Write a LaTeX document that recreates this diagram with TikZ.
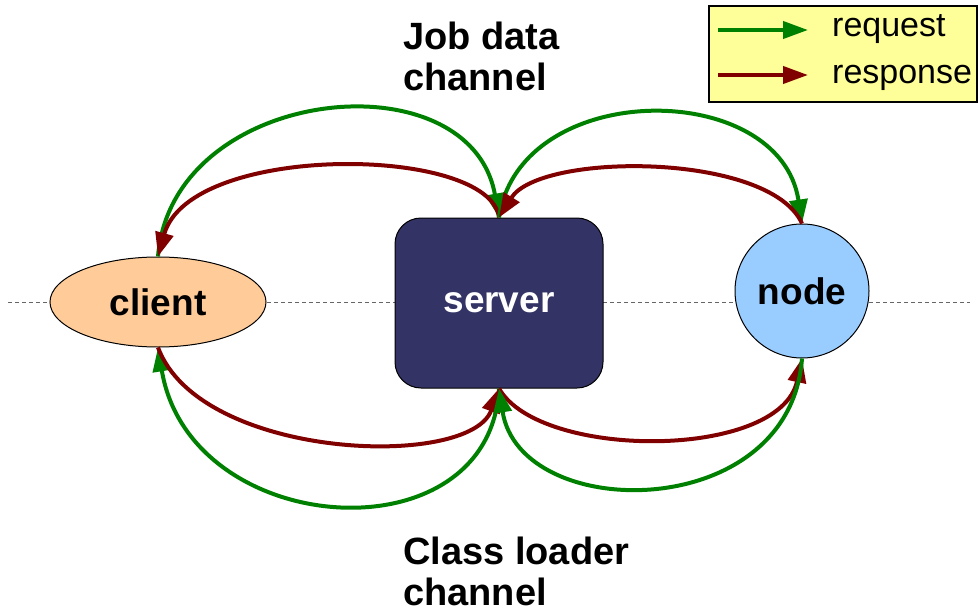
\documentclass[tikz,border=0pt]{standalone}
\usepackage{fontspec}
\setmainfont{Liberation Sans}
\usetikzlibrary{arrows.meta,shapes.geometric}
\definecolor{reqgreen}{RGB}{0,128,0}
\definecolor{resred}{RGB}{128,0,0}
\definecolor{clientfill}{RGB}{255,204,153}
\definecolor{serverfill}{RGB}{51,51,102}
\definecolor{nodefill}{RGB}{153,204,255}
\definecolor{legendfill}{RGB}{255,255,153}
\tikzset{
  big/.style={font=\fontsize{37}{41}\selectfont\bfseries},
  chan/.style={font=\fontsize{38}{41}\selectfont\bfseries},
  req/.style={draw=reqgreen,line width=4pt,-{Triangle[length=24pt,width=18pt]}},
  res/.style={draw=resred,line width=4pt,-{Triangle[length=24pt,width=18pt]}},
  legreq/.style={draw=reqgreen,line width=4pt,-{Triangle[length=25pt,width=17pt]}},
  legres/.style={draw=resred,line width=4pt,-{Triangle[length=25pt,width=17pt]}},
  lbl/.style={chan,anchor=base west,inner sep=0pt},
  legtext/.style={font=\fontsize{34}{40}\selectfont,anchor=base west,inner sep=0pt},
}
\begin{document}
\begin{tikzpicture}[x=1pt,y=-1pt]
\useasboundingbox (0,0) rectangle (978,616);
% axis line
\coordinate (axl) at (8,302);
\coordinate (axr) at (970,302);
\draw[gray!80!black,line width=1pt,dash pattern=on 4pt off 3pt] (axl) -- (axr);
% nodes
\node[ellipse,draw=black,line width=1pt,fill=clientfill,minimum width=216pt,minimum height=90pt,inner sep=0pt,big] (client) at (158,302) {client};
\node[rectangle,rounded corners=26pt,draw=black,line width=1pt,fill=serverfill,minimum width=208pt,minimum height=170pt,inner sep=0pt,big,text=white] (server) at (499,303) {server};
\node[circle,draw=black,line width=1pt,fill=nodefill,minimum size=134pt,inner sep=0pt,big] (node) at (802,291) {node};
% job data channel (top)
\draw[req] (client.north) .. controls (172,85) and (470,55) .. (server.north);
\draw[res] (server.north) .. controls (490,145) and (190,142) .. (client.north);
\draw[req] (server.north) .. controls (520,78) and (780,78) .. (node.north);
\draw[res] (node.north) .. controls (770,152) and (540,152) .. (server.north);
% class loader channel (bottom)
\draw[req] (server.south) .. controls (490,560) and (190,540) .. (client.south);
\draw[res] (client.south) .. controls (200,460) and (470,470) .. (server.south);
\draw[res] (server.south) .. controls (540,460) and (780,460) .. (node.south);
\draw[req] (node.south) .. controls (790,524) and (520,524) .. (server.south);
% channel labels
\node[lbl] (jd1) at (403,49) {Job data};
\node[lbl] (jd2) at (403,90) {channel};
\node[lbl] (cl1) at (403,564) {Class loader};
\node[lbl] (cl2) at (403,605) {channel};
% legend
\node[draw=black,line width=1.5pt,fill=legendfill,minimum width=268pt,minimum height=96pt,inner sep=0pt,anchor=north west] (legend) at (708,5) {};
\coordinate (rqa) at (718,30);
\coordinate (rqb) at (808,30);
\coordinate (rsa) at (718,75);
\coordinate (rsb) at (808,75);
\draw[legreq] (rqa) -- (rqb);
\draw[legres] (rsa) -- (rsb);
\node[legtext] (reqtxt) at (832,36) {request};
\node[legtext] (restxt) at (832,83) {response};
\end{tikzpicture}
\end{document}
